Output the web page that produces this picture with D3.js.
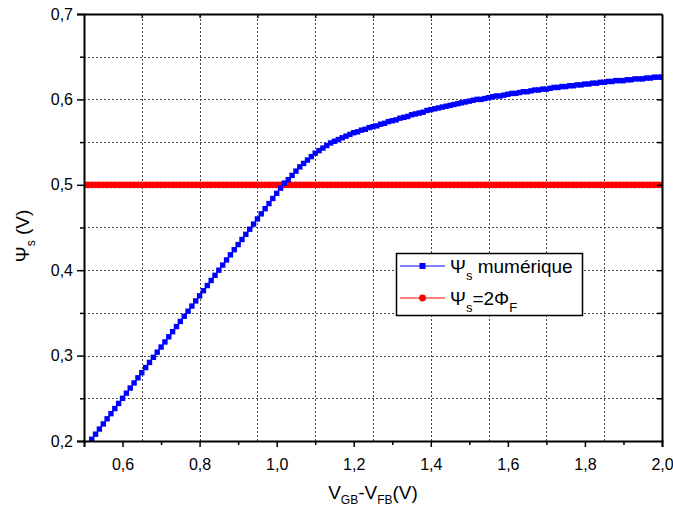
<!DOCTYPE html>
<html>
<head>
<meta charset="utf-8">
<script src="https://cdn.jsdelivr.net/npm/d3@7"></script>
<style>
  body { margin: 0; background: #fff; }
  svg { display: block; font-family: "Liberation Sans", Arial, sans-serif; }
</style>
</head>
<body>
<div id="chart"></div>
<script>
// Psi_s numerique, sampled every 0.01 V from 0.52 V to 2.00 V
const vgbStart = 0.52;
const vgbStep = 0.01;
const psiNum = [
  0.202, 0.208, 0.214, 0.220, 0.226, 0.232, 0.238, 0.244, 0.250, 0.256,
  0.262, 0.268, 0.274, 0.280, 0.286, 0.292, 0.298, 0.304, 0.310, 0.316,
  0.322, 0.328, 0.334, 0.340, 0.346, 0.352, 0.358, 0.364, 0.370, 0.376,
  0.382, 0.388, 0.394, 0.400, 0.406, 0.412, 0.418, 0.424, 0.430, 0.436,
  0.442, 0.448, 0.454, 0.460, 0.466, 0.472, 0.478, 0.484, 0.490, 0.496,
  0.502, 0.506, 0.511, 0.516, 0.521, 0.525, 0.529, 0.533, 0.537, 0.540,
  0.543, 0.546, 0.549, 0.551, 0.553, 0.555, 0.557, 0.559, 0.561, 0.562,
  0.564, 0.565, 0.567, 0.568, 0.569, 0.571, 0.572, 0.574, 0.575, 0.576,
  0.578, 0.579, 0.580, 0.582, 0.583, 0.584, 0.585, 0.587, 0.588, 0.589,
  0.590, 0.591, 0.592, 0.593, 0.594, 0.595, 0.596, 0.597, 0.598, 0.599,
  0.600, 0.600, 0.601, 0.602, 0.603, 0.604, 0.604, 0.605, 0.606, 0.607,
  0.607, 0.608, 0.609, 0.609, 0.610, 0.611, 0.611, 0.612, 0.612, 0.613,
  0.614, 0.614, 0.615, 0.615, 0.616, 0.616, 0.617, 0.617, 0.618, 0.618,
  0.619, 0.619, 0.620, 0.620, 0.621, 0.621, 0.622, 0.622, 0.622, 0.623,
  0.623, 0.624, 0.624, 0.624, 0.625, 0.625, 0.626, 0.626, 0.626
];
// Psi_s = 2 Phi_F (constant), from 0.50 V to 2.00 V
const twoPhiF = 0.5;
const phiStart = 0.50;
const phiEnd = 2.00;

const xTicks = [0.6, 0.8, 1.0, 1.2, 1.4, 1.6, 1.8, 2.0];
const xMinor = [0.5, 0.7, 0.9, 1.1, 1.3, 1.5, 1.7, 1.9];
const xGrid = [0.65, 0.8, 0.95, 1.1, 1.25, 1.4, 1.55, 1.7, 1.85];
const yTicks = [0.2, 0.3, 0.4, 0.5, 0.6, 0.7];
const yMinor = [0.25, 0.35, 0.45, 0.55, 0.65];
const yGrid = [0.25, 0.3, 0.35, 0.4, 0.45, 0.5, 0.55, 0.6, 0.65];

const width = 673;
const height = 511;
const margin = {top: 14, right: 11, bottom: 70, left: 84};

const blueData = psiNum.map((v, i) => ({x: vgbStart + i * vgbStep, y: v}));
const redData = d3.range(Math.round((phiEnd - phiStart) / vgbStep) + 1)
  .map(i => ({x: phiStart + i * vgbStep, y: twoPhiF}));

const fmt = d => d3.format(".1f")(d).replace(".", ",");

const svg = d3.select("#chart")
  .append("svg")
  .attr("width", width)
  .attr("height", height)
  .attr("viewBox", [0, 0, width, height]);

const x = d3.scaleLinear()
  .domain([0.5, 2.0])
  .range([margin.left, width - margin.right]);

const y = d3.scaleLinear()
  .domain([0.2, 0.7])
  .range([height - margin.bottom, margin.top]);

// grid
const grid = svg.append("g")
  .attr("stroke", "#444")
  .attr("stroke-width", 1)
  .attr("stroke-dasharray", "2,2")
  .attr("shape-rendering", "crispEdges");

grid.selectAll(".gx")
  .data(xGrid)
  .join("line")
  .attr("x1", d => Math.round(x(d)) + 0.5)
  .attr("x2", d => Math.round(x(d)) + 0.5)
  .attr("y1", y(0.2))
  .attr("y2", y(0.7));

grid.selectAll(".gy")
  .data(yGrid)
  .join("line")
  .attr("y1", d => Math.round(y(d)) + 0.5)
  .attr("y2", d => Math.round(y(d)) + 0.5)
  .attr("x1", x(0.5))
  .attr("x2", x(2.0));

svg.append("clipPath")
  .attr("id", "clip")
  .append("rect")
  .attr("x", x(0.5))
  .attr("y", y(0.7))
  .attr("width", x(2.0) - x(0.5))
  .attr("height", y(0.2) - y(0.7));

const plot = svg.append("g").attr("clip-path", "url(#clip)");

const line = d3.line().x(d => x(d.x)).y(d => y(d.y));

// red series
plot.append("path")
  .datum(redData)
  .attr("fill", "none")
  .attr("stroke", "#ff0000")
  .attr("stroke-width", 1)
  .attr("d", line);

plot.append("g")
  .attr("fill", "#ff0000")
  .selectAll("circle")
  .data(redData)
  .join("circle")
  .attr("cx", d => x(d.x))
  .attr("cy", d => y(d.y))
  .attr("r", 3.4);

// blue series
plot.append("path")
  .datum(blueData)
  .attr("fill", "none")
  .attr("stroke", "#0000ff")
  .attr("stroke-width", 1)
  .attr("d", line);

plot.append("g")
  .attr("fill", "#0000ff")
  .selectAll("rect")
  .data(blueData)
  .join("rect")
  .attr("x", d => x(d.x) - 2.7)
  .attr("y", d => y(d.y) - 2.7)
  .attr("width", 5.4)
  .attr("height", 5.4);

// axes
function xAxis(g) {
  g.attr("transform", `translate(0, ${y(0.2)})`)
    .call(d3.axisBottom(x).tickValues(xTicks).tickFormat(fmt).tickSize(6).tickPadding(12))
    .call(g => g.select(".domain").attr("stroke-width", 2))
    .call(g => g.selectAll(".tick line").attr("stroke-width", 1.5))
    .call(g => g.selectAll("text").attr("font-size", "16px").attr("fill", "#000").attr("font-family", "Liberation Sans, Arial, sans-serif"));
}

function xAxisMinor(g) {
  g.attr("transform", `translate(0, ${y(0.2)})`)
    .call(d3.axisBottom(x).tickValues(xMinor).tickFormat("").tickSize(4).tickSizeOuter(0))
    .call(g => g.select(".domain").remove())
    .call(g => g.selectAll(".tick line").attr("stroke-width", 1.5));
}

function yAxis(g) {
  g.attr("transform", `translate(${x(0.5)}, 0)`)
    .call(d3.axisLeft(y).tickValues(yTicks).tickFormat(fmt).tickSize(7).tickPadding(4))
    .call(g => g.select(".domain").attr("stroke-width", 2))
    .call(g => g.selectAll(".tick line").attr("stroke-width", 1.5))
    .call(g => g.selectAll("text").attr("font-size", "16px").attr("fill", "#000").attr("font-family", "Liberation Sans, Arial, sans-serif"));
}

function yAxisMinor(g) {
  g.attr("transform", `translate(${x(0.5)}, 0)`)
    .call(d3.axisLeft(y).tickValues(yMinor).tickFormat("").tickSize(4).tickSizeOuter(0))
    .call(g => g.select(".domain").remove())
    .call(g => g.selectAll(".tick line").attr("stroke-width", 1.5));
}

function topAxis(g) {
  g.attr("transform", `translate(0, ${y(0.7)})`)
    .call(d3.axisBottom(x).tickValues(xGrid).tickFormat("").tickSize(4).tickSizeOuter(0))
    .call(g => g.select(".domain").attr("stroke-width", 2))
    .call(g => g.selectAll(".tick line").attr("stroke-width", 1.5));
}

function rightAxis(g) {
  g.attr("transform", `translate(${x(2.0)}, 0)`)
    .call(d3.axisLeft(y).tickValues(yGrid).tickFormat("").tickSize(5).tickSizeOuter(0))
    .call(g => g.select(".domain").attr("stroke-width", 2))
    .call(g => g.selectAll(".tick line").attr("stroke-width", 1.5));
}

svg.append("g").call(topAxis);
svg.append("g").call(rightAxis);
svg.append("g").call(xAxisMinor);
svg.append("g").call(yAxisMinor);
svg.append("g").call(xAxis);
svg.append("g").call(yAxis);

// axis titles
const xTitle = svg.append("text")
  .attr("x", 373)
  .attr("y", 499)
  .attr("text-anchor", "middle")
  .attr("font-size", "19px");
xTitle.append("tspan").text("V");
xTitle.append("tspan").attr("font-size", "12px").attr("dy", 5).text("GB");
xTitle.append("tspan").attr("dy", -5).text("-V");
xTitle.append("tspan").attr("font-size", "12px").attr("dy", 5).text("FB");
xTitle.append("tspan").attr("dy", -5).text("(V)");

const yTitle = svg.append("text")
  .attr("transform", "translate(29, 236) rotate(-90)")
  .attr("text-anchor", "middle")
  .attr("font-size", "19px");
yTitle.append("tspan").text("\u03A8");
yTitle.append("tspan").attr("font-size", "12px").attr("dy", 6).text("s");
yTitle.append("tspan").attr("dy", -6).text(" (V)");

// legend
const legend = svg.append("g");
legend.append("rect")
  .attr("x", 396.5)
  .attr("y", 253.5)
  .attr("width", 186)
  .attr("height", 62)
  .attr("fill", "#fff")
  .attr("stroke", "#000")
  .attr("stroke-width", 1.5);

const legendRows = [
  {color: "#0000ff", shape: "square", cy: 266, label: [["\u03A8", 0], ["s", 1], [" mumérique", 0]]},
  {color: "#ff0000", shape: "circle", cy: 298, label: [["\u03A8", 0], ["s", 1], ["=2\u03A6", 0], ["F", 1]]}
];

legendRows.forEach(r => {
  legend.append("line")
    .attr("x1", 400).attr("x2", 445)
    .attr("y1", r.cy).attr("y2", r.cy)
    .attr("stroke", r.color).attr("stroke-width", 1);
  if (r.shape === "square") {
    legend.append("rect")
      .attr("x", 422.5 - 3).attr("y", r.cy - 3)
      .attr("width", 6).attr("height", 6)
      .attr("fill", r.color);
  } else {
    legend.append("circle")
      .attr("cx", 422.5).attr("cy", r.cy).attr("r", 3.4)
      .attr("fill", r.color);
  }
  const t = legend.append("text")
    .attr("x", 450)
    .attr("y", r.cy + 7)
    .attr("font-size", "19px");
  let sub = 0;
  r.label.forEach(([s, isSub]) => {
    const dy = (isSub ? 7 : 0) - sub;
    sub = isSub ? 7 : 0;
    t.append("tspan")
      .attr("dy", dy)
      .attr("font-size", isSub ? "13px" : "19px")
      .text(s);
  });
});

svg.node();
</script>
</body>
</html>
